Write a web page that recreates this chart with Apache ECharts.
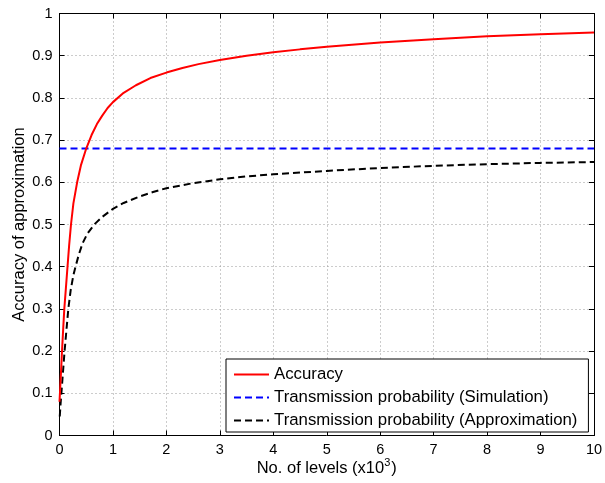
<!DOCTYPE html>
<html><head><meta charset="utf-8">
<script src="https://cdn.jsdelivr.net/npm/echarts@6/dist/echarts.min.js"></script>
<style>html,body{margin:0;padding:0;background:#fff}#c{width:605px;height:483px}</style>
</head><body><div id="c"></div>
<script>
// Data (x in thousands of levels)
var accX = [0, 0.01, 0.03, 0.047, 0.07, 0.09, 0.12, 0.15, 0.18, 0.215, 0.26, 0.33, 0.40, 0.50, 0.60, 0.70, 0.80, 0.90, 1.0, 1.2, 1.43, 1.7, 2.0, 2.3, 2.6, 3.0, 3.5, 4, 4.5, 5, 6, 7, 8, 9, 10];
var accY = [0.08, 0.105, 0.155, 0.20, 0.255, 0.30, 0.35, 0.40, 0.45, 0.50, 0.55, 0.60, 0.64, 0.68, 0.712, 0.738, 0.758, 0.776, 0.79, 0.812, 0.83, 0.847, 0.86, 0.871, 0.88, 0.89, 0.90, 0.908, 0.915, 0.921, 0.931, 0.939, 0.946, 0.951, 0.955];
var simX = [0, 10];
var simY = [0.68, 0.68];
var apxX = [0.005, 0.02, 0.035, 0.065, 0.095, 0.13, 0.165, 0.21, 0.26, 0.30, 0.36, 0.43, 0.52, 0.65, 0.8, 1.0, 1.2, 1.49, 1.75, 2.0, 2.5, 3, 3.5, 4, 5, 6, 7, 8, 9, 10];
var apxY = [0.045, 0.075, 0.10, 0.15, 0.20, 0.25, 0.30, 0.345, 0.38, 0.40, 0.428, 0.455, 0.478, 0.50, 0.518, 0.537, 0.551, 0.566, 0.577, 0.586, 0.598, 0.607, 0.614, 0.619, 0.627, 0.634, 0.639, 0.643, 0.646, 0.648];
var seriesNames = ['Accuracy', 'Transmission probability (Simulation)', 'Transmission probability (Approximation)'];
var xTitle = '{a|No. of levels (x10}{s|3}{a|)}';
var yTitle = 'Accuracy of approximation';

function pairs(xs, ys){ return xs.map(function(x,i){ return [x, ys[i]]; }); }

var FONT = 'Liberation Sans, Arial, Helvetica, sans-serif';
var chart = echarts.init(document.getElementById('c'), null, {renderer:'canvas'});
var axisLine = {show:true, onZero:false, lineStyle:{color:'#000', width:1}};
var tick = {show:true, inside:true, length:5, lineStyle:{color:'#000'}};
var split = {show:true, lineStyle:{color:'#999', type:[1,3], width:1}};
chart.setOption({
  animation:false,
  backgroundColor:'#fff',
  grid:{left:59.5, right:11, top:13.5, bottom:47.5, containLabel:false, outerBoundsMode:'none'},
  xAxis:[
    {type:'value', position:'bottom', min:0, max:10, interval:1,
     axisLine:axisLine, axisTick:tick, splitLine:split,
     axisLabel:{color:'#000', fontSize:14.5, fontFamily:FONT, margin:7},
     name:xTitle, nameLocation:'middle', nameGap:22, nameMoveOverlap:false,
     nameTextStyle:{color:'#000', rich:{a:{fontSize:16.5, fontFamily:FONT, color:'#000'}, s:{fontSize:11, fontFamily:FONT, color:'#000', padding:[0,1,10,0]}}}},
    {type:'value', position:'top', min:0, max:10, interval:1,
     axisLine:axisLine, axisTick:tick, splitLine:{show:false}, axisLabel:{show:false}}
  ],
  yAxis:[
    {type:'value', position:'left', min:0, max:1, interval:0.1,
     axisLine:axisLine, axisTick:tick, splitLine:split,
     axisLabel:{color:'#000', fontSize:14.5, fontFamily:FONT, margin:7,
       formatter:function(v){ return String(Math.round(v*10)/10); }},
     name:yTitle, nameLocation:'middle', nameGap:32, nameMoveOverlap:false,
     nameTextStyle:{color:'#000', fontSize:16.5, fontFamily:FONT}},
    {type:'value', position:'right', min:0, max:1, interval:0.1,
     axisLine:axisLine, axisTick:tick, splitLine:{show:false}, axisLabel:{show:false}}
  ],
  legend:{
    orient:'vertical', left:226, top:359,
    data:seriesNames,
    itemWidth:35, itemHeight:14, itemGap:6,
    padding:[7,11,3,7],
    itemStyle:{color:'transparent', borderColor:'transparent', borderWidth:0, opacity:0},
    borderColor:'#000', borderWidth:1, backgroundColor:'#fff',
    textStyle:{color:'#000', fontSize:16.8, fontFamily:FONT}
  },
  series:[
    {name:seriesNames[0], type:'line', data:pairs(accX, accY), symbol:'none', showSymbol:false,
     lineStyle:{color:'#ff0000', width:2}, itemStyle:{color:'#ff0000'}, z:3},
    {name:seriesNames[1], type:'line', data:pairs(simX, simY), symbol:'none', showSymbol:false,
     lineStyle:{color:'#0000ff', width:2, type:[7,4]}, itemStyle:{color:'#0000ff'}, z:2},
    {name:seriesNames[2], type:'line', data:pairs(apxX, apxY), symbol:'none', showSymbol:false,
     lineStyle:{color:'#000000', width:2, type:[7,4]}, itemStyle:{color:'#000'}, z:2}
  ]
});
</script></body></html>
